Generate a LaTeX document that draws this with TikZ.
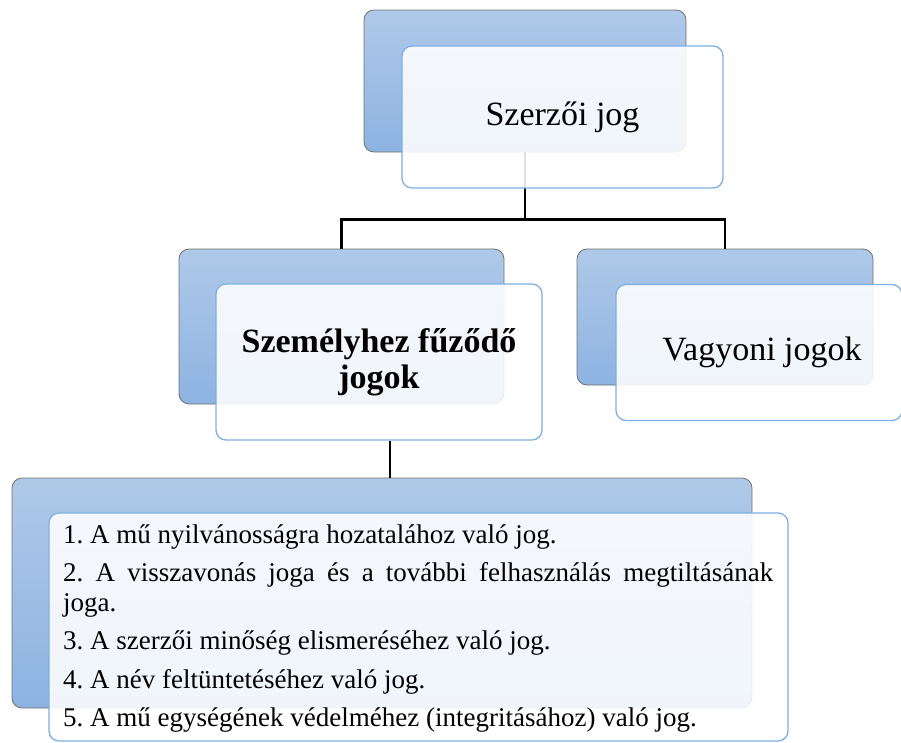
\documentclass[tikz,border=0pt]{standalone}
\usepackage{fontspec}
\setmainfont{Liberation Serif}
\usetikzlibrary{calc}
\frenchspacing
\definecolor{backtop}{HTML}{AFC9E8}
\definecolor{backbot}{HTML}{8DB3E2}
\definecolor{backline}{HTML}{707070}
\definecolor{frontline}{HTML}{7DB0E2}
\tikzset{
  backbox/.style={rectangle, rounded corners=10pt, draw=backline, line width=0.8pt,
    top color=backtop, bottom color=backbot, inner sep=0pt},
  frontbox/.style={rectangle, rounded corners=10pt, draw=frontline, line width=1.3pt,
    fill=white, fill opacity=0.88, text opacity=1, inner sep=0pt},
  conn/.style={line width=2.6pt, draw=black},
  headtext/.style={font=\fontsize{34pt}{36pt}\selectfont},
  boldhead/.style={font=\fontsize{34pt}{36pt}\selectfont\bfseries},
  listtext/.style={font=\fontsize{27pt}{29.5pt}\selectfont\frenchspacing, inner sep=0pt,
    text width=710pt, align=justify, anchor=base west},
}
\begin{document}
\begin{tikzpicture}[x=1pt,y=-1pt]
\useasboundingbox (0,0) rectangle (901,742);
% back boxes
\node[backbox, minimum width=322pt, minimum height=142pt] (tb) at (525,81) {};
\node[backbox, minimum width=325pt, minimum height=155pt] (lb) at (341.5,326.5) {};
\node[backbox, minimum width=296pt, minimum height=136pt] (rb) at (725,317) {};
\node[backbox, minimum width=740pt, minimum height=230pt] (bb) at (382,593) {};
% connectors
\draw[conn] (tb.south) -- ++(0,67) -| (lb.north);
\draw[conn] (tb.south) -- ++(0,67) -| (rb.north);
% front boxes
\node[frontbox, headtext, minimum width=321pt, minimum height=142pt] (tf) at (562.5,117) {\raisebox{-2pt}{Szerzői jog}};
\node[frontbox, boldhead, align=center, minimum width=326pt, minimum height=156pt] (lf) at (379,362) {Személyhez fűződő\\jogok};
\node[frontbox, headtext, minimum width=286pt, minimum height=136pt] (rf) at (759,352.5) {\hspace*{6pt}Vagyoni jogok};
\node[frontbox, minimum width=739pt, minimum height=228pt] (bf) at (418.5,627) {};
\coordinate (bc) at ($(lf.south)+(11,0)$);
\draw[conn] (bc) -- (bc |- bb.north);
% list text
\node[listtext] (list) at (63,543) {\setlength{\parskip}{9pt}%
1. A mű nyilvánosságra hozatalához való jog.\par
2. A visszavonás joga és a további felhasználás megtiltásának\linebreak joga.\par
3. A szerzői minőség elismeréséhez való jog.\par
4. A név feltüntetéséhez való jog.\par
5. A mű egységének védelméhez (integritásához) való jog.};
\end{tikzpicture}
\end{document}
